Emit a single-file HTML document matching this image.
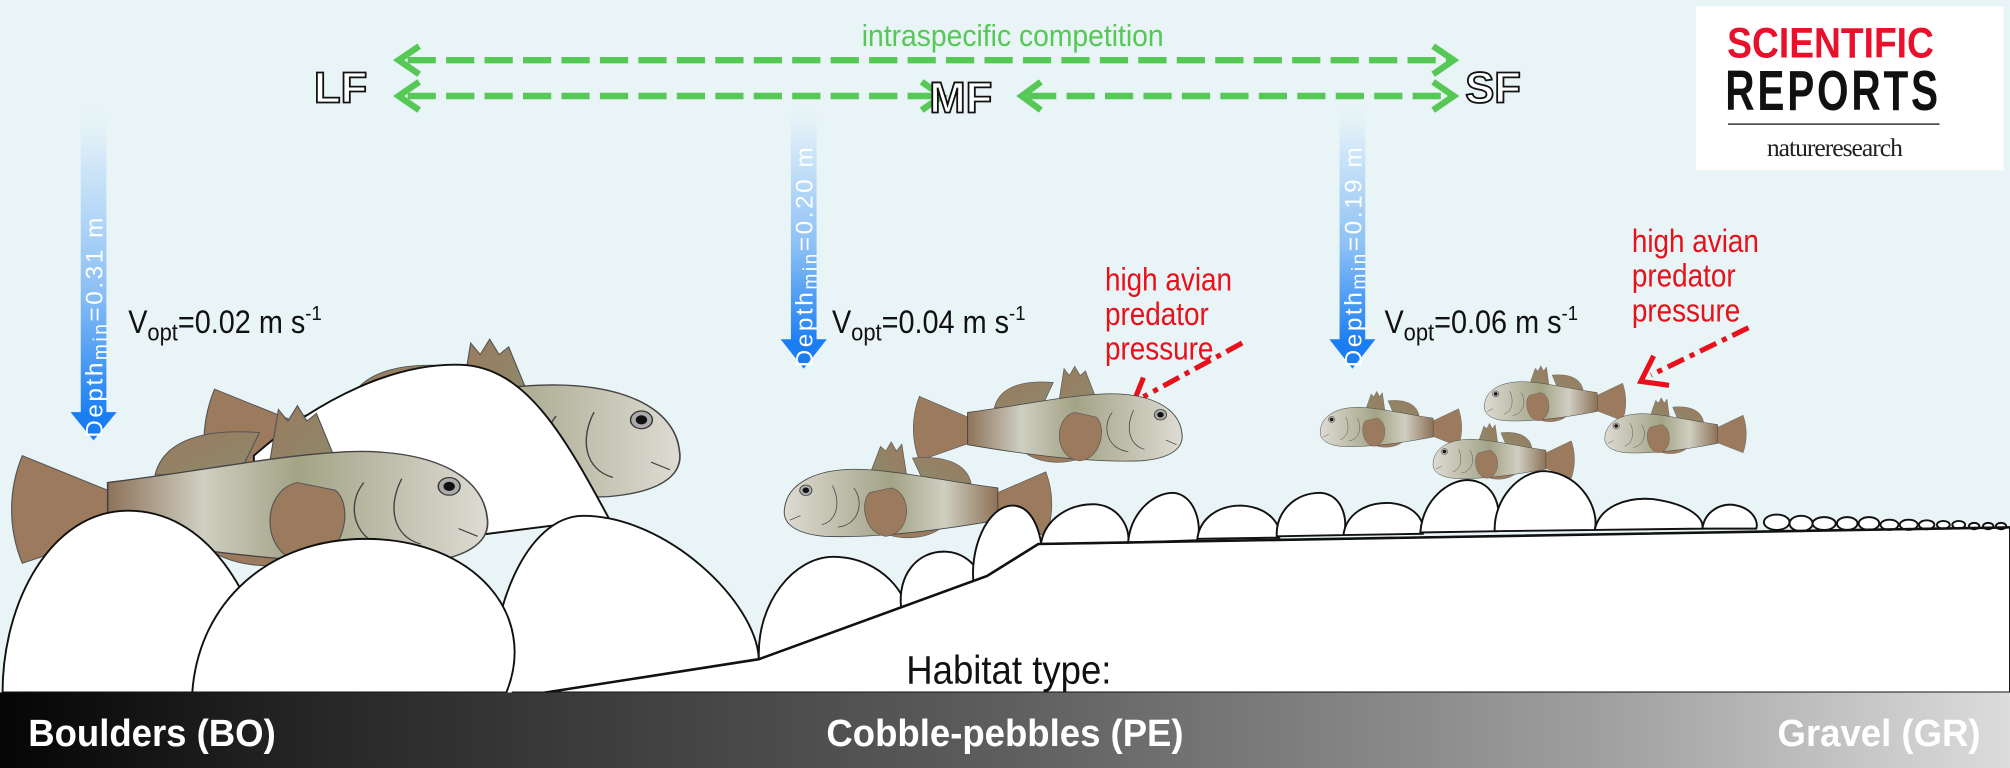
<!DOCTYPE html>
<html><head><meta charset="utf-8"><style>
html,body{margin:0;padding:0;background:#e8f4f6;}
svg{display:block;}
</style></head><body>
<svg width="2010" height="768" viewBox="0 0 1568 600" preserveAspectRatio="none" xmlns="http://www.w3.org/2000/svg" font-family="Liberation Sans, sans-serif">
<defs>
<linearGradient id="bar" x1="0" x2="1" y1="0" y2="0">
<stop offset="0" stop-color="#050505"/><stop offset="0.15" stop-color="#252525"/><stop offset="0.5" stop-color="#5e5e5e"/><stop offset="0.8" stop-color="#a0a0a0"/><stop offset="1" stop-color="#dcdcdc"/></linearGradient>
<linearGradient id="blue" x1="0" x2="0" y1="0" y2="1">
<stop offset="0" stop-color="#e8f4f6" stop-opacity="0"/><stop offset="0.15" stop-color="#d8ebf8"/><stop offset="0.6" stop-color="#8cc0f5"/><stop offset="1" stop-color="#1a7ef2"/></linearGradient>
<linearGradient id="body" x1="0" x2="1" y1="0" y2="0">
<stop offset="0" stop-color="#8d7258"/><stop offset="0.25" stop-color="#cfcfc2"/><stop offset="0.5" stop-color="#a3a386"/><stop offset="1" stop-color="#dedbd3"/></linearGradient>
<linearGradient id="fin" x1="0" x2="1" y1="0" y2="1">
<stop offset="0" stop-color="#9b7a5e"/><stop offset="1" stop-color="#8d8a6c"/></linearGradient>
<g id="fish">
<path d="M24 -2 L2 -13 C-1 -4 -1 6 2 15 L24 6 Z" fill="#9b7a5e" stroke="#555" stroke-width="0.25"/>
<path d="M30 -8 C32 -18 42 -20 52 -19 L48 -9 Z" fill="url(#fin)" stroke="#555" stroke-width="0.25"/>
<path d="M54 -10 L56 -25 L58 -22 L60 -26 L62 -22 L64 -24 L68 -12 Z" fill="url(#fin)" stroke="#555" stroke-width="0.25"/>
<path d="M40 10 C45 16 55 17 62 14 L58 8 Z" fill="#9b7a5e" stroke="#555" stroke-width="0.25"/>
<path d="M20 -6 C40 -9 55 -13 70 -14 C88 -15 99 -8 100 3 C101 10 95 14 85 15 C65 16 40 12 20 8 Z" fill="url(#body)" stroke="#444" stroke-width="0.35"/>
<path d="M60 -6 C52 -4 52 14 62 15 C70 14 72 0 68 -4 Z" fill="#9b7a5e" stroke="#555" stroke-width="0.25"/>
<path d="M74 -6 C70 0 72 10 80 11 M82 -7 C79 0 80 8 86 10 M94 6 L98 8" fill="none" stroke="#444" stroke-width="0.3"/>
<circle cx="92" cy="-5" r="2.3" fill="#aaa" stroke="#333" stroke-width="0.3"/>
<circle cx="92" cy="-5" r="1.2" fill="#111"/>
</g>
</defs>
<rect x="0" y="0" width="1568" height="600" fill="#e8f4f6"/>

<!-- logo -->
<rect x="1323" y="5" width="240" height="128" fill="#fff"/>
<text x="1428" y="45" font-size="33" font-weight="bold" fill="#e8102a" text-anchor="middle" transform="translate(1428 0) scale(0.88 1) translate(-1428 0)">SCIENTIFIC</text>
<text x="1430" y="86" font-size="44" font-weight="bold" fill="#111" text-anchor="middle" letter-spacing="3" transform="translate(1430 0) scale(0.72 1) translate(-1430 0)">REPORTS</text>
<line x1="1348" y1="97" x2="1513" y2="97" stroke="#333" stroke-width="1.2"/>
<text x="1431" y="122" font-size="20" fill="#222" text-anchor="middle" font-family="Liberation Serif, serif" letter-spacing="-0.8">natureresearch</text>

<!-- green arrows -->
<g stroke="#55c855" stroke-width="5" fill="none">
<line x1="318" y1="47" x2="1130" y2="47" stroke-dasharray="22 8"/>
<line x1="318" y1="75" x2="730" y2="75" stroke-dasharray="22 8"/>
<line x1="802" y1="75" x2="1130" y2="75" stroke-dasharray="22 8"/>
<polyline points="327,36 311,47 327,58"/>
<polyline points="327,64 311,75 327,86"/>
<polyline points="1118,36 1134,47 1118,58"/>
<polyline points="719,64 735,75 719,86"/>
<polyline points="812,64 797,75 812,86"/>
<polyline points="1118,64 1134,75 1118,86"/>
</g>
<text x="790" y="36" font-size="24" fill="#55c855" text-anchor="middle" transform="translate(790 0) scale(0.92 1) translate(-790 0)">intraspecific competition</text>
<g font-size="34" font-weight="bold" fill="#fff" stroke="#111" stroke-width="1.4">
<text x="245" y="80">LF</text><text x="725" y="88">MF</text><text x="1143" y="80">SF</text>
</g>

<!-- blue arrows -->
<g>
<rect x="63" y="80" width="20" height="245" fill="url(#blue)"/>
<polygon points="55,322 91,322 73,344" fill="#1a7ef2"/>
<rect x="617" y="80" width="20" height="188" fill="url(#blue)"/>
<polygon points="609,265 645,265 627,288" fill="#1a7ef2"/>
<rect x="1045" y="80" width="20" height="188" fill="url(#blue)"/>
<polygon points="1037,265 1073,265 1055,288" fill="#1a7ef2"/>
</g>
<g font-size="19" fill="#fff" letter-spacing="2">
<text transform="translate(80 342) rotate(-90)">Depth<tspan font-size="15" dy="3">min</tspan><tspan dy="-3">=0.31 m</tspan></text>
<text transform="translate(634 287) rotate(-90)">Depth<tspan font-size="15" dy="3">min</tspan><tspan dy="-3">=0.20 m</tspan></text>
<text transform="translate(1062 287) rotate(-90)">Depth<tspan font-size="15" dy="3">min</tspan><tspan dy="-3">=0.19 m</tspan></text>
</g>
<g font-size="25" fill="#111">
<text transform="translate(100 260) scale(0.9 1)">V<tspan font-size="19" dy="6">opt</tspan><tspan dy="-6">=0.02 m s</tspan><tspan font-size="16" dy="-10">-1</tspan></text>
<text transform="translate(649 260) scale(0.9 1)">V<tspan font-size="19" dy="6">opt</tspan><tspan dy="-6">=0.04 m s</tspan><tspan font-size="16" dy="-10">-1</tspan></text>
<text transform="translate(1080 260) scale(0.9 1)">V<tspan font-size="19" dy="6">opt</tspan><tspan dy="-6">=0.06 m s</tspan><tspan font-size="16" dy="-10">-1</tspan></text>
</g>
<g font-size="25" fill="#e8101a">
<text transform="translate(862 227) scale(0.87 1)">high avian</text>
<text transform="translate(862 254) scale(0.87 1)">predator</text>
<text transform="translate(862 281) scale(0.87 1)">pressure</text>
<text transform="translate(1273 197) scale(0.87 1)">high avian</text>
<text transform="translate(1273 224) scale(0.87 1)">predator</text>
<text transform="translate(1273 251) scale(0.87 1)">pressure</text>
</g>
<g stroke="#e8101a" stroke-width="4" fill="none">
<line x1="969" y1="268" x2="892" y2="310" stroke-dasharray="14 5 4 5"/>
<polyline points="892,295 884,315 906,318"/>
<line x1="1364" y1="256" x2="1288" y2="293" stroke-dasharray="14 5 4 5"/>
<polyline points="1290,278 1280,298 1302,301"/>
</g>

<!-- fish LF back -->
<use href="#fish" transform="translate(160 343) scale(3.7 3.0)"/>
<!-- boulder behind -->
<path d="M198 356 C250 310 310 283 360 285 C410 287 440 340 475 405 L200 440 Z" fill="#fff" stroke="#111" stroke-width="1.5"/>
<!-- front LF fish -->
<use href="#fish" transform="translate(10 395) scale(3.7 3.0)"/>
<!-- rocks -->
<path d="M2 541 C2 470 40 399 100 399 C160 399 200 460 215 541 Z" fill="#fff" stroke="#111" stroke-width="1.5"/>
<path d="M385 541 C380 480 410 403 455 403 C520 403 590 470 592 515 L400 545 Z" fill="#fff" stroke="#111" stroke-width="1.5"/>
<path d="M150 541 C155 470 210 421 285 421 C370 421 420 480 395 541 Z" fill="#fff" stroke="#111" stroke-width="1.5"/>
<!-- MF fish -->
<use href="#fish" transform="translate(713 333) scale(2.09 1.8)"/>
<use href="#fish" transform="translate(820 392) scale(-2.08 1.8)"/>
<!-- SF fish -->
<use href="#fish" transform="translate(1140 333) scale(-1.1 1.05)"/>
<use href="#fish" transform="translate(1268 313) scale(-1.1 1.05)"/>
<use href="#fish" transform="translate(1228 358) scale(-1.1 1.05)"/>
<use href="#fish" transform="translate(1362 338) scale(-1.1 1.05)"/>
<!-- cobbles -->
<g fill="#fff" stroke="#111" stroke-width="1.5">
<path d="M592 515 C590 470 620 435 650 435 C690 435 710 470 705 475 Z"/>
<path d="M703 475 C700 450 715 430 738 431 C760 432 770 455 765 462 Z"/>
<path d="M760 460 C755 430 770 395 790 395 C810 395 815 430 812 440 Z"/>
<path d="M400 545 L592 515 L770 450 L810 425 L1568 412 L1568 541 L400 541 Z"/>
<path d="M812 425 C815 405 835 393 855 394 C875 396 882 415 880 424 Z"/>
<path d="M880 424 C882 400 900 385 915 385 C932 386 938 410 934 422 Z"/>
<path d="M934 421 C936 405 950 395 968 395 C990 396 1000 410 998 420 Z"/>
<path d="M996 419 C995 400 1010 385 1030 385 C1048 386 1052 408 1048 418 Z"/>
<path d="M1048 418 C1050 402 1065 392 1085 393 C1105 395 1112 408 1110 417 Z"/>
<path d="M1108 416 C1110 390 1130 375 1145 375 C1168 376 1172 400 1168 415 Z"/>
<path d="M1166 415 C1165 390 1185 368 1205 368 C1235 370 1248 400 1244 414 Z"/>
<path d="M1244 414 C1248 395 1270 388 1290 390 C1318 394 1330 405 1328 413 Z"/>
<path d="M1328 413 C1330 398 1345 392 1355 395 C1368 398 1372 408 1370 413 Z"/>
<ellipse cx="1386" cy="408" rx="10" ry="6"/>
<ellipse cx="1405" cy="409" rx="9" ry="6"/>
<ellipse cx="1423" cy="409" rx="9" ry="5"/>
<ellipse cx="1441" cy="409" rx="8" ry="5"/>
<ellipse cx="1458" cy="409" rx="8" ry="5"/>
<ellipse cx="1474" cy="410" rx="7" ry="4"/>
<ellipse cx="1489" cy="410" rx="7" ry="4"/>
<ellipse cx="1503" cy="410" rx="6" ry="3.5"/>
<ellipse cx="1516" cy="410" rx="5" ry="3"/>
<ellipse cx="1528" cy="410" rx="5" ry="3"/>
<ellipse cx="1540" cy="411" rx="4" ry="2.5"/>
<ellipse cx="1551" cy="411" rx="4" ry="2.5"/>
<ellipse cx="1561" cy="411" rx="4" ry="2.5"/>
</g>
<path d="M400 545 L592 515 L770 450 L810 425 L1568 412" fill="none" stroke="#111" stroke-width="2"/>

<text x="787" y="534" font-size="31" fill="#111" text-anchor="middle" transform="translate(787 0) scale(0.92 1) translate(-787 0)">Habitat type:</text>

<!-- bottom bar -->
<rect x="0" y="541" width="1568" height="59" fill="url(#bar)"/>
<g font-size="30" font-weight="bold" fill="#fff">
<text transform="translate(22 583) scale(0.95 1)">Boulders (BO)</text>
<text x="0" y="0" text-anchor="middle" transform="translate(784 583) scale(0.95 1)">Cobble-pebbles (PE)</text>
<text x="0" y="0" text-anchor="end" transform="translate(1545 583) scale(0.95 1)">Gravel (GR)</text>
</g>
</svg>
</body></html>
